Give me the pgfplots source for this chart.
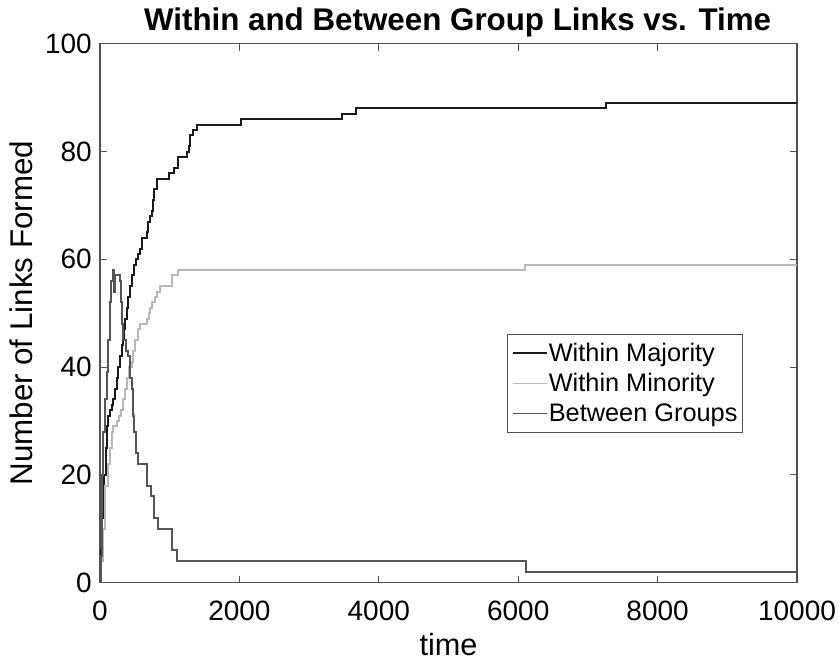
\documentclass[border=0pt]{standalone}
\usepackage{fontspec}
\setmainfont{Liberation Sans}
\usepackage{pgfplots}
\usepackage{pgfplotstable}
\pgfplotsset{compat=1.18}

\definecolor{majc}{HTML}{1A1A1A}
\definecolor{minc}{HTML}{B8B8B8}
\definecolor{betc}{HTML}{555555}
\definecolor{axc}{HTML}{505050}

% step data: value y holds from time t until the next row
\pgfplotstableread{
t y
0 0
15 6
30 12
45 17
62 20
80 25
96 29
120 31
143 32
170 33
191 34
215 36
239 38
262 40
287 42
310 44
334 45
349 47
365 49
383 51
405 53
430 55
455 57
493 59
520 60
550 61
575 62
598 64
680 65
693 67
720 68
741 69
760 71
779 73
813 75
990 76
1062 77
1124 79
1244 80
1270 81
1291 83
1339 84
1387 85
2023 86
3467 87
3668 88
7260 89
10000 89
}\majority

\pgfplotstableread{
t y
0 0
20 4
40 10
72 18
110 22
143 25
170 28
191 29
239 30
270 31
300 32
334 34
360 36
383 38
420 40
455 41
480 43
502 45
540 47
574 48
670 49
700 50
717 51
741 52
790 53
813 54
861 55
1040 57
1115 58
6100 59
10000 59
}\minority

\pgfplotstableread{
t y
0 0
8 5
24 20
50 28
72 34
96 39
119 45
143 52
165 56
185 58
205 54
222 57
280 56
300 52
320 48
334 45
370 43
406 42
430 38
455 36
475 31
493 28
520 24
550 22
680 18
730 16
770 12
837 10
1040 6
1100 4
6112 2
10000 2
}\between

\begin{document}
\begin{tikzpicture}
\begin{axis}[
  name=ax,
  scale only axis,
  width=522.75pt, height=404pt,
  xmin=0, xmax=10000, ymin=0, ymax=100,
  scaled x ticks=false, scaled y ticks=false,
  xtick={0,2000,4000,6000,8000,10000},
  xticklabels={0,2000,4000,6000,8000,10000},
  ytick={0,20,40,60,80,100},
  yticklabels={0,20,40,60,80,100},
  tick align=inside,
  major tick length=5.25pt,
  axis line style={axc, line width=0.8pt},
  every tick/.style={axc, line width=0.8pt},
  tick label style={font=\fontsize{21}{24}\selectfont, inner sep=0pt},
  xticklabel style={anchor=north, yshift=-13.6pt},
  yticklabel style={anchor=east, xshift=-6pt},
  every axis title shift=0pt,
  title={Within and Between Group Links vs. Time},
  title style={font=\bfseries\fontsize{23.5}{26}\selectfont, at={(axis description cs:0.513,1.0241)}, anchor=base, inner sep=0pt},
  xlabel={time},
  xlabel style={font=\fontsize{23}{26}\selectfont, at={(axis description cs:0.5,-0.1346)}, anchor=base, inner sep=0pt},
  ylabel={Number of Links Formed},
  ylabel style={font=\fontsize{23.5}{26}\selectfont, at={(axis description cs:-0.1133,0.5)}, anchor=center, inner sep=0pt},
  legend cell align=left,
  legend image code/.code={\draw[#1, line width=1.2pt] (0pt,0pt) -- (26pt,0pt);},
  legend style={at={(axis description cs:0.5835,0.4615)}, anchor=north west,
    draw=axc, line width=0.8pt, fill=white,
    font=\fontsize{19}{22}\selectfont,
    inner xsep=3.5pt, inner ysep=5pt, row sep=4.5pt,
    nodes={inner xsep=0.5pt, inner ysep=1.5pt}},
]
\addplot[const plot, majc, line width=1.5pt] table[x=t, y=y] {\majority};
\addlegendentry{Within Majority}
\addplot[const plot, minc, line width=1.5pt] table[x=t, y=y] {\minority};
\addlegendentry{Within Minority}
\addplot[const plot, betc, line width=1.5pt] table[x=t, y=y] {\between};
\addlegendentry{Between Groups}
\end{axis}
\pgfresetboundingbox
\path (ax.south west) ++(-75pt,-61.875pt) rectangle ++(629.25pt,498.75pt);
\end{tikzpicture}
\end{document}
